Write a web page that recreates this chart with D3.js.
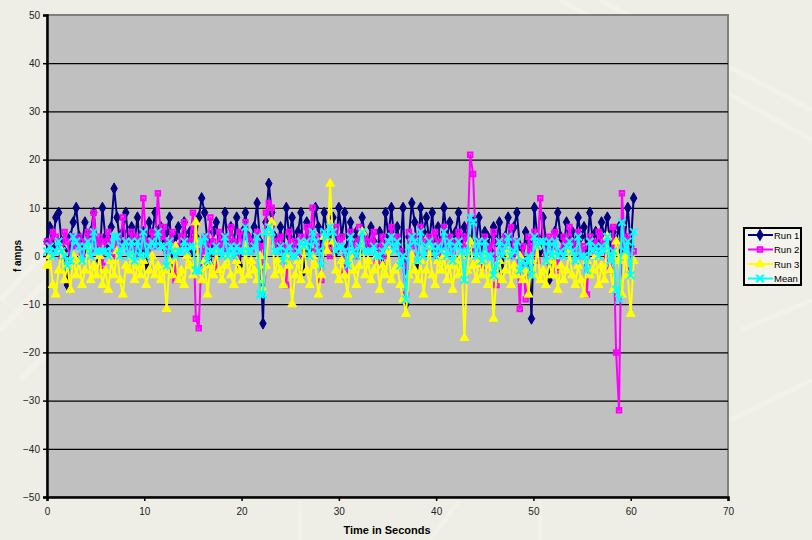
<!DOCTYPE html>
<html lang="en">
<head>
<meta charset="utf-8">
<title>f amps vs time</title>
<script src="https://cdn.jsdelivr.net/npm/d3@7"></script>
<style>
	body { margin: 0; background: #efeee6; }
	svg text { font-family: "Liberation Sans", Arial, sans-serif; }
</style>
</head>
<body>
<div id="chart"></div>
<script>
// sample spacing (seconds): ~0.3 s, 0 .. 60.3 s
var dt = 0.3;

var run1 = [
	3, 6, 2, 8, 9, 3, 1, -6, 4, 7,
	10, 4, 2, 7, 1, 5, 9, 3, -1, 10,
	4, 2, 6, 14, 8, 3, 5, 9, 2, 6,
	3, 8, 1, 5, -2, 7, 4, 9, 3, 6,
	2, 5, 8, -3, 4, 6, 2, 7, 3, 5,
	1, 4, 8, 12, 9, 3, -2, 5, 7, 2,
	4, 9, 1, 6, 3, 8, -2, 5, 9, 4,
	2, 6, 11, 3, -14, 7, 15, 9, 4, 2,
	6, 1, 10, 4, 8, 2, 5, 9, -3, 7,
	1, 4, 10, 6, 2, 9, 5, 3, 8, 1,
	10, 4, 9, 2, 7, 3, 5, 1, 8, 4,
	2, 6, 3, 0, 5, -2, 9, 4, 10, 3,
	6, 1, 10, -10, 4, 11, 7, -2, 10, 5,
	8, 3, 9, 1, 6, 2, 10, 4, 7, 3,
	5, 9, 2, 6, 4, 1, 7, 3, 8, 2,
	5, 4, 1, 6, 3, 7, -3, 4, 8, 1,
	6, 9, 2, -1, 5, 3, -13, 10, 4, 1,
	8, 3, -5, 2, 5, 9, 4, 1, 7, 3,
	5, 2, 8, 4, 6, 1, 9, 3, 5, 2,
	7, 4, 8, 2, 5, 3, 6, 1, 4, 10,
	2, 12
];

var run2 = [
	3, 1, 5, 4, 2, 0, 5, 3, -1, 4,
	2, 4, 0, 3, 5, 1, 9, 2, 4, -2,
	3, 5, 1, 0, 4, 2, 8, 3, 1, 5,
	0, 4, 2, 12, 3, 1, 5, 2, 13, 4,
	6, 1, 3, 5, -5, 2, 4, 7, 0, 3,
	9, -13, -15, 1, 4, 2, 8, 3, -3, 5,
	2, 4, 1, 6, 3, 0, 5, 2, 7, 4,
	1, 3, 5, 2, -4, 9, 11, 10, 3, 1,
	4, 2, -6, 5, 1, 3, 0, 4, 2, 6,
	3, 10, 1, 4, -5, 2, 5, 0, 3, 6,
	2, 4, -3, 1, 5, 3, 0, 6, 2, 4,
	1, 3, 5, -1, 2, 4, 0, 3, 6, 2,
	4, 1, -2, -8, 5, 2, 4, 0, 6, 3,
	1, 4, 2, 5, 0, 3, 6, 2, 4, 1,
	3, 5, 0, 4, 2, 21, 17, 1, 3, -2,
	4, 2, 0, 5, -6, 3, 1, 4, 2, 6,
	0, 3, -11, 2, -9, 4, 1, 5, -1, 12,
	3, 0, 4, 2, 5, -3, 1, 4, 2, 6,
	3, 1, 5, 0, 2, -8, 4, 3, 1, 5,
	2, 4, 0, -3, 6, -20, -32, 13, 2, 4,
	-3, 1
];

var run3 = [
	-2, 0, -6, -8, -3, 1, -5, -2, -7, 0,
	-4, -1, -6, -3, 2, -5, -2, -4, 0, -6,
	-3, -7, -1, -4, 1, -5, -8, -2, -3, 0,
	-5, -2, -4, -1, -6, -3, 0, -4, -2, -5,
	-3, -11, -1, -4, 2, -5, -3, -6, 0, -2,
	-4, 7, -3, -5, -1, -8, -2, -4, 1, -3,
	-5, -2, 0, -4, -6, -1, -3, -5, 2, -4,
	-1, -3, -5, 0, -7, -2, 5, 7, -4, -1,
	-3, -6, 0, -2, -10, -4, -1, -5, 2, -3,
	-6, 0, -2, -8, -4, 4, 1, 15, 3, -3,
	-5, -1, -4, -8, 0, -3, -6, -2, 5, -4,
	-1, -5, -3, 0, -7, -2, -4, 1, -5, -3,
	-2, -6, -9, -12, -4, 0, -3, -5, -1, -8,
	-3, 2, -4, -6, -1, -3, 0, -5, -2, -7,
	-1, -4, 0, -17, -3, 3, -2, -5, -1, -4,
	0, -6, -2, -13, -4, -1, -5, -3, 1, -6,
	-2, -4, 0, -5, -3, -8, -1, -4, 2, -5,
	-3, -6, -1, -4, 0, -7, -2, -5, -3, 1,
	-4, -6, -2, -5, -8, -1, -4, -3, 0, -6,
	-2, -5, 4, -3, -7, 3, -1, -8, 0, -4,
	-12, -1
];

var mean = [
	1, 2, 0, 1, 3, 1, 0, -2, -1, 4,
	3, 2, -1, 2, 3, 0, 5, 1, 1, 1,
	1, 0, 2, 4, 4, 0, 2, 3, 0, 3,
	-1, 3, 0, 5, 0, 2, 3, 2, 5, 2,
	2, -2, 3, 1, 0, 1, 1, 3, 1, 2,
	2, -3, -3, 3, 4, -1, 1, 1, 2, 1,
	0, 4, 0, 2, 0, 2, 1, 1, 6, 1,
	1, 2, 4, -8, -8, 5, 6, 5, 1, 1,
	2, -1, 1, 2, 0, 0, 1, 3, 2, 3,
	0, 5, 3, 1, -2, 5, 4, 6, 5, 1,
	2, 2, 1, -2, 4, 1, 0, 2, 5, 1,
	1, 1, 2, 0, 0, 1, 2, 3, 4, 1,
	3, -2, 0, -9, 2, 4, 3, -1, 5, 0,
	2, 3, 2, 0, 2, 1, 5, 0, 3, -1,
	2, 3, 1, -5, 1, 8, 7, 0, 3, -1,
	3, 0, 0, -4, -2, 3, 0, 2, 4, 0,
	1, 3, -3, -1, -2, 0, -4, 4, 2, 3,
	3, -1, 3, 0, 3, 0, 1, 0, 2, 3,
	1, -1, 4, 0, 0, -3, 3, 1, 2, 0,
	2, 1, 4, -1, 1, -7, -9, 7, 1, 3,
	-4, 5
];

var seriesNames = ["Run 1", "Run 2", "Run 3", "Mean"];
var xTicks = [0, 10, 20, 30, 40, 50, 60, 70];
var yTicks = [-50, -40, -30, -20, -10, 0, 10, 20, 30, 40, 50];

var W = 812, H = 540;
var svg = d3.select("#chart").append("svg")
	.attr("width", W)
	.attr("height", H);

svg.append("rect")
	.attr("width", W).attr("height", H)
	.attr("fill", "#efeee6");

// faint background texture
var tex = svg.append("g").attr("stroke", "#ffffff").attr("fill", "none").attr("opacity", 0.18);
tex.append("path").attr("d", "M0,300 L180,110 M0,330 L200,120 M20,380 L260,140").attr("stroke-width", 6);
tex.append("path").attr("d", "M560,0 L812,140 M600,0 L812,110 M740,330 L812,300 M730,420 L812,380").attr("stroke-width", 5);
tex.append("path").attr("d", "M300,500 L300,540 M540,500 L540,540 M460,500 L430,540").attr("stroke-width", 4);

var x = d3.scaleLinear().domain([0, 70]).range([47, 728]);
var y = d3.scaleLinear().domain([-50, 50]).range([497, 15]);

// plot area
svg.append("rect")
	.attr("x", x(0)).attr("y", y(50))
	.attr("width", x(70) - x(0)).attr("height", y(-50) - y(50))
	.attr("fill", "#c0c0c0")
	.attr("stroke", "#808080")
	.attr("stroke-width", 2);

// gridlines
svg.append("g").selectAll("line")
	.data(yTicks.filter(function(d) { return d > -50 && d < 50; }))
	.enter().append("line")
	.attr("x1", x(0)).attr("x2", x(70))
	.attr("y1", function(d) { return y(d) + 0.5; })
	.attr("y2", function(d) { return y(d) + 0.5; })
	.attr("stroke", "#000")
	.attr("stroke-width", 1.2);

// axes
var yAxis = svg.append("g")
	.attr("transform", "translate(" + x(0) + ",0)")
	.call(d3.axisLeft(y).tickValues(yTicks).tickSize(4).tickPadding(3));
var xAxis = svg.append("g")
	.attr("transform", "translate(0," + y(-50) + ")")
	.call(d3.axisBottom(x).tickValues(xTicks).tickSize(4).tickPadding(7));

[yAxis, xAxis].forEach(function(a) {
	a.select(".domain").attr("stroke", "#000").attr("stroke-width", 2.5);
	a.selectAll(".tick line").attr("stroke", "#000").attr("stroke-width", 1.5);
	a.selectAll(".tick text")
		.attr("fill", "#222")
		.style("font-size", "10px")
		.style("font-family", "'Liberation Sans Narrow', 'Liberation Sans', Arial, sans-serif");
});

// axis titles
svg.append("text")
	.attr("x", 387).attr("y", 534)
	.attr("text-anchor", "middle")
	.style("font-size", "11px").style("font-weight", "bold")
	.text("Time in Seconds");
svg.append("text")
	.attr("transform", "translate(21,256) rotate(-90)")
	.attr("text-anchor", "middle")
	.style("font-size", "10px").style("font-weight", "bold")
	.text("f amps");

// series
var styles = [
	{ color: "#000080", symbol: d3.symbolDiamond, size: 36, fill: true },
	{ color: "#ff00ff", symbol: d3.symbolSquare, size: 20, fill: false },
	{ color: "#ffff00", symbol: d3.symbolTriangle, size: 34, fill: true },
	{ color: "#00ffff", symbol: d3.symbolTimes, size: 38, fill: false }
];
var allSeries = [run1, run2, run3, mean];

var line = d3.line()
	.x(function(d, i) { return x(i * dt); })
	.y(function(d) { return y(d); });

function markerPath(s) {
	return d3.symbol().type(s.symbol).size(s.size)();
}

allSeries.forEach(function(vals, k) {
	var s = styles[k];
	var g = svg.append("g").attr("class", "series");
	g.append("path")
		.attr("d", line(vals))
		.attr("fill", "none")
		.attr("stroke", s.color)
		.attr("stroke-width", 2)
		.attr("stroke-linejoin", "round");
	g.selectAll("path.m")
		.data(vals)
		.enter().append("path")
		.attr("class", "m")
		.attr("d", markerPath(s))
		.attr("transform", function(d, i) { return "translate(" + x(i * dt) + "," + y(d) + ")"; })
		.attr("fill", s.fill ? s.color : "none")
		.attr("stroke", s.color)
		.attr("stroke-width", s.fill ? 1 : 2);
});

// legend
var leg = svg.append("g").attr("transform", "translate(744,228)");
leg.append("rect")
	.attr("width", 57).attr("height", 57)
	.attr("fill", "#f4f3ec")
	.attr("stroke", "#000")
	.attr("stroke-width", 2);
seriesNames.forEach(function(name, k) {
	var s = styles[k];
	var ry = 7 + k * 14.5;
	leg.append("line")
		.attr("x1", 4).attr("x2", 29)
		.attr("y1", ry).attr("y2", ry)
		.attr("stroke", s.color).attr("stroke-width", 2);
	leg.append("path")
		.attr("d", markerPath(s))
		.attr("transform", "translate(16," + ry + ")")
		.attr("fill", s.fill ? s.color : "none")
		.attr("stroke", s.color)
		.attr("stroke-width", s.fill ? 1 : 2);
	leg.append("text")
		.attr("x", 30).attr("y", ry + 3.5)
		.style("font-size", "9.5px")
		.attr("fill", "#000")
		.text(name);
});
</script>
</body>
</html>
